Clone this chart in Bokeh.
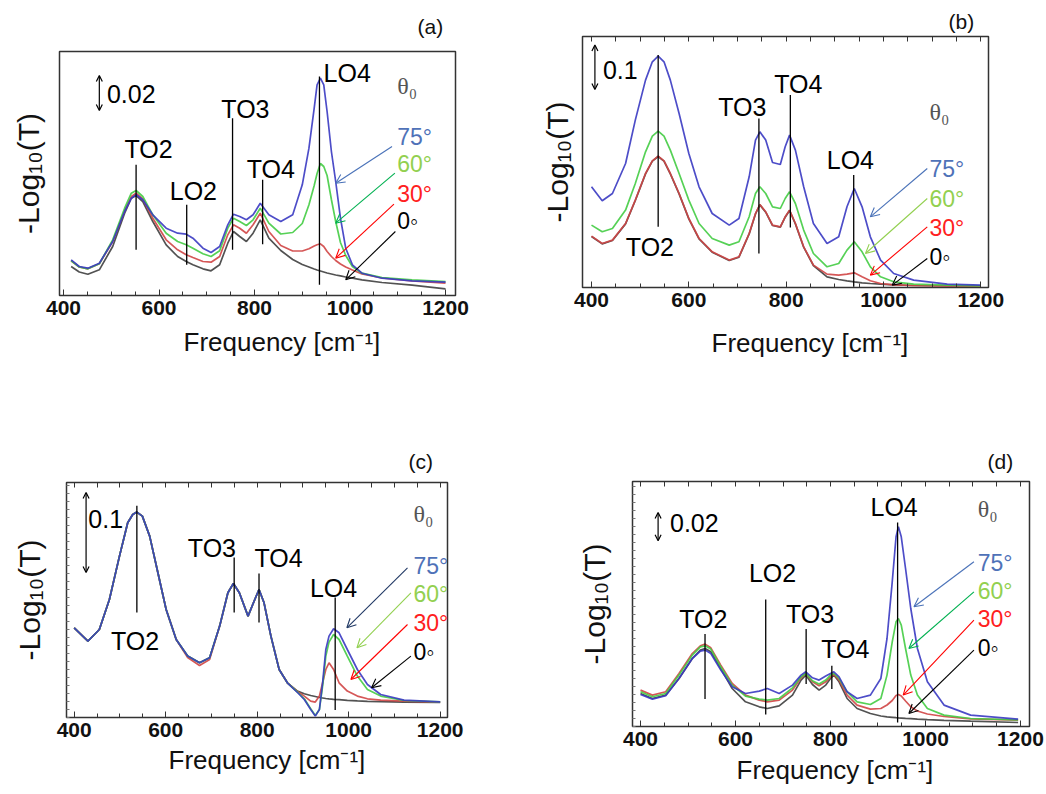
from bokeh.plotting import figure
from bokeh.models import (Label, Arrow, OpenHead, LinearAxis, SingleIntervalTicker, FixedTicker,
                          Range1d, Title)
from bokeh.layouts import column, row
from bokeh.embed import file_html
from bokeh.resources import INLINE

# ---------------- data (absorbance in arbitrary units) ----------------
ANGLES = ["0◦", "30°", "60°", "75°"]

# panel (a)
FREQ_A = [416, 433, 451, 475, 503, 528, 542, 552, 566, 587, 615, 639, 657, 671, 692, 709, 727, 744, 756, 769,
          783, 797, 812, 830, 855, 880, 900, 914, 925, 931, 938, 945, 952, 961, 970, 980, 991, 1005, 1025, 1067,
          1130, 1200]
A_75 = [35.7, 29, 27.3, 32.3, 54, 84, 97.3, 100.7, 95.7, 80.7, 67.3, 62.3, 61.3, 57.3, 47.3, 43, 49, 70.7, 81.3, 79,
        75.7, 80.7, 92.3, 80.7, 74, 80.7, 110.7, 147.3, 187.3, 210.7, 217.3, 210.7, 184, 144, 114, 77.3, 47.3, 30.7,
        22.3, 17.3, 14.7, 13.3]
A_60 = [34.7, 28.5, 26.7, 31.7, 55.7, 87.3, 102.3, 105, 99, 80.7, 62.3, 54, 50.7, 47.3, 41.7, 39, 44.7, 67.3, 77.3, 74,
        70, 75.7, 87.3, 72.3, 61.5, 63, 72, 90.7, 110, 122, 132, 129, 120, 96, 74, 53, 40, 29, 22.3, 18, 15.7, 14]
A_30 = [34.7, 28.5, 26.7, 31.7, 54, 84.7, 99, 102.3, 96.7, 77.3, 55.7, 45.7, 40.7, 38, 34, 33.3, 39, 60.7, 70.7, 67.3,
        62.3, 70.7, 82.3, 64, 50, 44.5, 44.5, 46.7, 49.5, 50.7, 51.7, 49, 44, 39, 35, 31.5, 28.5, 25.5, 21.5, 17.5,
        14.5, 12.3]
A_0 = [29, 23.5, 21.3, 25.7, 49, 82.3, 97.3, 100, 94, 74, 50.7, 39, 34, 30.7, 26.7, 24.7, 30.7, 52.3, 64, 59,
       54, 62.3, 75.7, 57.3, 45, 36, 31, 28.5, 26.5, 25.5, 24.5, 23.5, 22.5, 21.5, 20.5, 19.7, 18.5, 17.3, 15.7, 13,
       10.3, 6.7]

# panel (b)
FREQ_B = [400, 422, 443, 470, 490, 511, 525, 537, 549, 562, 580, 600, 621, 648, 683, 703, 724, 737, 746, 758,
          772, 788, 798, 807, 819, 836, 856, 884, 908, 925, 940, 956, 973, 994, 1021, 1062, 1131, 1200]
B_75 = [100.7, 86.7, 94, 124, 167.4, 207.4, 225.7, 231.4, 225.7, 207.4, 174, 134, 100.7, 74, 62.4, 69, 110.7, 147.4,
        155.7, 147.4, 125, 123, 140.7, 152.4, 137.4, 100.7, 64, 44, 50.7, 80.7, 99, 80.7, 50.7, 27.4, 14, 7.4, 3.4, 2.4]
B_60 = [62.4, 55.7, 59, 77.4, 104, 135.7, 151.4, 156.4, 151.4, 137.4, 114, 87.4, 64, 49, 42.4, 45.7, 70.7, 94, 100.7,
        94, 80.7, 79, 89, 95.7, 84, 57.4, 34, 20.7, 24, 37.4, 45.7, 35.7, 20.7, 10.7, 5.7, 3.4, 2.4, 1.7]
B_30 = [51.4, 44, 47.4, 64, 87.4, 114, 126.7, 131.4, 126.7, 114, 94, 69, 49, 35.7, 27.4, 30.7, 54, 74, 83, 75.7,
        62.4, 60.7, 70.7, 77.4, 64, 40.7, 22.4, 13.4, 12.4, 13.4, 14.7, 10.7, 6.7, 4, 2.7, 2, 1.7, 1.4]
B_0 = [51, 43.6, 47, 63.6, 87, 113.6, 126.3, 131, 126.3, 113.6, 93.6, 68.6, 48.6, 35.3, 27, 30.3, 53.6, 73.6, 82.6,
       75.3, 62, 60.3, 70.3, 77, 63.6, 40.3, 22, 10.7, 8, 6.7, 5.7, 4.7, 4, 3.4, 2.7, 2, 1.7, 1.4]

# panel (c)
FREQ_C = [400, 430, 455, 477, 499, 517, 528, 537, 549, 565, 583, 601, 623, 648, 674, 696, 718, 736, 748, 761,
          780, 793, 804, 815, 830, 848, 866, 888, 903, 917, 927, 936, 943, 950, 957, 967, 979, 997, 1019, 1041,
          1070, 1121, 1200]
C_75 = [89.7, 76.4, 88, 118, 161.4, 194.7, 203, 205.4, 201.4, 181.4, 144.7, 108, 78, 61.4, 54.7, 59.7, 91.4, 124.7,
        134, 124.7, 101.4, 116, 128, 114.7, 81.4, 48, 34.7, 25, 18, 8, 1.4, 8, 34.7, 68, 81.4, 88.7, 84.7, 68, 48, 33,
        23, 17.4, 15.7]
C_60 = [89.7, 76.4, 88, 118, 161.4, 194.7, 203, 205.4, 201.4, 181.4, 144.7, 108, 78, 61.4, 54.7, 59.7, 91.4, 124.7,
        134, 124.7, 101.4, 116, 128, 114.7, 81.4, 48, 34.7, 25.5, 18.7, 8.7, 2, 8, 31.4, 61.4, 75.4, 83, 78, 61.4,
        41.4, 28, 21.4, 17, 15.7]
C_30 = [89.7, 76.4, 88, 118, 161.4, 194.7, 203, 205.4, 201.4, 181.4, 144.7, 108, 78, 60, 52, 58, 91.4, 124.7,
        134, 124.7, 101.4, 116, 128, 114.7, 81.4, 48, 34.7, 26, 21.4, 16.4, 15.4, 21.4, 34.7, 48, 54.7, 48, 34.7,
        26.4, 21.4, 18.7, 17.4, 16.4, 15.4]
C_0 = [89.7, 76.4, 88, 118, 161.4, 194.7, 203, 205.4, 201.4, 181.4, 144.7, 108, 78, 61.4, 54.7, 59.7, 91.4, 124.7,
       134, 124.7, 101.4, 116, 128, 114.7, 81.4, 48, 34.7, 26.4, 23.8, 22, 21, 20, 19.5, 19, 18.6, 18.2, 17.9, 17.2,
       16.6, 16.2, 15.8, 15.4, 15.2]

# panel (d)
FREQ_D = [400, 425, 453, 481, 509, 526, 536, 548, 569, 593, 621, 650, 667, 692, 720, 738, 748, 762, 776, 790,
          800, 807, 818, 835, 856, 884, 906, 919, 930, 938, 943, 949, 958, 969, 983, 1004, 1039, 1095, 1195]
D_75 = [32, 27.4, 30.7, 48, 68, 75.4, 76.4, 73, 56.4, 39.7, 33, 35.4, 38, 33, 41.4, 51.4, 54.7, 48.7, 46.4, 50.4,
        53, 54.7, 49.7, 34.7, 28, 31.4, 48, 88, 144.7, 189.7, 199.7, 189.7, 158, 118, 78, 44.7, 21.4, 11.4, 7.4]
D_60 = [34.7, 29.7, 33, 51.4, 71.4, 79.7, 80.7, 77.4, 59.7, 41.4, 30.4, 27.4, 26.4, 28, 38.7, 49.7, 53, 45.7, 42.4,
        46.4, 51.4, 53, 48, 34.7, 24.7, 22, 28, 51.4, 84.7, 104.7, 108, 101.4, 78, 51.4, 31.4, 18, 11.4, 8, 6.7]
D_30 = [36.4, 31.4, 34.7, 53, 73, 80.7, 82.4, 78.7, 61.4, 43, 31.4, 26.4, 24.7, 26.4, 36.4, 48.7, 53, 44.7, 40.7,
        44.7, 49.7, 52, 46.4, 31.4, 21.4, 17.4, 18, 21.5, 26, 31, 32, 30.5, 25.5, 19.7, 15.5, 12.5, 10, 7.7, 6.4]
D_0 = [33, 28, 31.4, 48, 68, 76.4, 78, 74.7, 58, 38, 24.7, 19.7, 18, 20.7, 31.4, 46.4, 51.4, 42, 36.4, 41.4,
       48, 51.4, 44.7, 28, 18, 13, 10.5, 9.7, 9.2, 8.8, 8.6, 8.4, 8.1, 7.8, 7.4, 6.9, 6.2, 5.3, 4]

# ---------------- styling ----------------
FONT = "Liberation Sans"
CURVE_COLORS = ["#3f3f3f", "#d04545", "#44cc44", "#3a3ac2"]
TEXT_COLORS = ["#000000", "#ff2020", "#92d050", "#4f72b8"]
X_MINOR = list(range(400, 1201, 50))


def txt(p, x, y, s, size="25px", color="black", align="center", font=FONT):
    p.add_layout(Label(x=x, y=y, text=s, text_font=font, text_font_size=size, text_color=color,
                       text_align=align, text_baseline="middle"))


def arrow(p, x0, y0, x1, y1, color, size=9):
    p.add_layout(Arrow(end=OpenHead(size=size, line_color=color, line_width=1.1),
                       x_start=x0, y_start=y0, x_end=x1, y_end=y1,
                       line_color=color, line_width=1.1))


def build(freq, series, xr, ymax, w, h, bl, br, bt, bb, ylab_standoff, top_axis, left_ticks,
          tag, tag_offset, tag_standoff, xlab_offset, xlab_standoff):
    p = figure(width=w, height=h, x_range=Range1d(*xr), y_range=Range1d(0, ymax),
               min_border_left=bl, min_border_right=br, min_border_top=bt, min_border_bottom=bb,
               output_backend="svg", toolbar_location=None, tools="")
    p.grid.visible = False
    p.outline_line_color = "#333333"
    p.outline_line_width = 1.5
    p.background_fill_color = "white"
    p.border_fill_color = "white"

    # panel tag "(a)" etc.
    p.title.text = tag
    p.title.align = "left"
    p.title.vertical_align = "top"
    p.title.offset = tag_offset
    p.title.standoff = tag_standoff
    p.title.text_font = FONT
    p.title.text_font_size = "21px"
    p.title.text_font_style = "normal"
    p.title.text_color = "#111111"

    xa = p.xaxis[0]
    xa.ticker = SingleIntervalTicker(interval=200, num_minor_ticks=4)
    xa.axis_line_color = None
    xa.major_tick_in = 6
    xa.major_tick_out = 0
    xa.minor_tick_in = 4
    xa.minor_tick_out = 0
    xa.major_tick_line_color = "#333333"
    xa.minor_tick_line_color = "#333333"
    xa.major_label_text_font = FONT
    xa.major_label_text_font_size = "21px"
    xa.major_label_text_font_style = "bold"
    xa.major_label_text_color = "#111111"
    xa.major_label_standoff = 5

    p.add_layout(Title(text="Frequency [cm⁻¹]", align="left", offset=xlab_offset, standoff=xlab_standoff,
                       text_font=FONT, text_font_size="26px", text_font_style="normal",
                       text_color="#111111"), "below")

    ya = p.yaxis[0]
    ya.axis_line_color = None
    if left_ticks:
        ya.ticker = FixedTicker(ticks=[], minor_ticks=list(range(0, int(ymax), 8)))
        ya.minor_tick_in = 3
        ya.minor_tick_out = 0
        ya.minor_tick_line_color = "#777777"
    else:
        ya.ticker = FixedTicker(ticks=[])
        ya.minor_tick_line_color = None
    ya.major_tick_line_color = None
    ya.major_tick_out = 0
    ya.major_label_standoff = 0
    ya.axis_label = "-Log₁₀(T)"
    ya.axis_label_text_font = FONT
    ya.axis_label_text_font_size = "30px"
    ya.axis_label_text_font_style = "normal"
    ya.axis_label_text_color = "#111111"
    ya.axis_label_standoff = ylab_standoff

    if top_axis:
        ta = LinearAxis(ticker=FixedTicker(ticks=[], minor_ticks=X_MINOR),
                        axis_line_color=None, major_tick_line_color=None,
                        major_tick_out=0, major_label_standoff=0,
                        minor_tick_in=5, minor_tick_out=0, minor_tick_line_color="#333333")
        p.add_layout(ta, "above")

    for s, c in zip(series, CURVE_COLORS):
        p.line(freq, s, line_color=c, line_width=1.7, line_alpha=0.9)
    return p


def markers(p, items):
    # items: (x, y_bottom, y_top)
    for x, y0, y1 in items:
        p.segment(x0=[x], y0=[y0], x1=[x], y1=[y1], line_color="black", line_width=1.3)


def scale_bar(p, x, y0, y1, tx, ty, s):
    p.add_layout(Arrow(start=OpenHead(size=6, line_width=1.2), end=OpenHead(size=6, line_width=1.2),
                       x_start=x, y_start=y0, x_end=x, y_end=y1, line_width=1.2, line_color="black"))
    txt(p, tx, ty, s, size="25px", align="left")


def angle_labels(p, x, ys, theta_y, arrows, arrow_colors):
    txt(p, x, theta_y, "θ₀", size="24px", color="#555555", align="left", font="Liberation Serif")
    for lab, y, c in zip(ANGLES[::-1], ys, TEXT_COLORS[::-1]):
        txt(p, x, y, lab, size="23px", color=c, align="left")
    for (x0, y0, x1, y1), c in zip(arrows, arrow_colors):
        arrow(p, x0, y0, x1, y1, c)


# ---------------- panel (a) ----------------
pa = build(FREQ_A, [A_0, A_30, A_60, A_75], (391.6, 1220.9), 244, 523, 398, 59, 68, 51, 103, 15, False, False,
           "(a)", 358, 24, 124, 14)
markers(pa, [(552, 45.7, 130.7), (658, 30.7, 90.7), (754, 45.7, 177.3), (817, 51.3, 115.7), (936, 10.7, 219)])
txt(pa, 578, 147, "TO2")
txt(pa, 672, 105, "LO2")
txt(pa, 781, 187, "TO3")
txt(pa, 834, 127, "TO4")
txt(pa, 994, 223, "LO4")
scale_bar(pa, 475, 185, 220, 491, 202, "0.02")
angle_labels(pa, 1099, [159, 131.7, 101.7, 74.3], 210,
             [(1088, 149, 970, 112.3), (1094, 122.3, 970, 72.3), (1092, 91.3, 970, 37.3), (1095, 64, 991, 15.7)],
             ["#4a72b8", "#00b050", "#ff0000", "#000000"])

# ---------------- panel (b) ----------------
pb = build(FREQ_B, [B_0, B_30, B_60, B_75], (381.5, 1215.8), 251, 522, 398, 59, 57, 36, 111, 9, True, False,
           "(b)", 366, 4, 129, 32)
markers(pb, [(537, 60.7, 232.4), (744, 34, 169), (808.6, 60, 192.4), (938.8, 0.7, 112.4)])
txt(pb, 520, 40.7, "TO2")
txt(pb, 710, 180.7, "TO3")
txt(pb, 825, 203.4, "TO4")
txt(pb, 932, 127.4, "LO4")
scale_bar(pb, 407, 198, 242.4, 423.4, 217.4, "0.1")
angle_labels(pb, 1094.5, [119, 89, 60, 30.7], 175.7,
             [(1090, 119, 973, 70.7), (1090, 89, 963, 34), (1090, 60.7, 973, 12.4), (1090, 29, 1018, 2.4)],
             ["#4a72b8", "#92d050", "#ff0000", "#000000"])

# ---------------- panel (c) ----------------
pc = build(FREQ_C, [C_0, C_30, C_60, C_75], (383.2, 1216), 235, 523, 395, 66, 76, 84, 76, 21, True, True,
           "(c)", 342, 16, 102, 6)
markers(pc, [(537, 105, 211.7), (749.7, 105, 160), (804, 95, 144), (970.5, 7.4, 120)])
txt(pc, 533, 76.7, "TO2")
txt(pc, 701, 170, "TO3")
txt(pc, 846.6, 159.4, "TO4")
txt(pc, 967, 129.4, "LO4")
scale_bar(pc, 426, 145, 225, 431, 198.4, "0.1")
angle_labels(pc, 1141.6, [151.7, 123.4, 95, 66], 203.4,
             [(1128.6, 149.7, 996, 89.7), (1136, 124.7, 1018, 69.7), (1128.6, 93, 1004.8, 38), (1136, 61.4, 1050, 29.7)],
             ["#203864", "#92d050", "#ff0000", "#000000"])

# ---------------- panel (d) ----------------
pd_ = build(FREQ_D, [D_0, D_30, D_60, D_75], (383.1, 1219), 245, 522, 395, 109, 16, 83, 67, 22, True, True,
            "(d)", 355, 14, 104, 8)
markers(pd_, [(535.8, 27.4, 92.4), (663.6, 12, 127), (748.7, 42.4, 97.4), (802.8, 37.4, 60.7), (941.3, 4, 204)])
txt(pd_, 532, 107.4, "TO2")
txt(pd_, 678, 154, "LO2")
txt(pd_, 757, 112.4, "TO3")
txt(pd_, 831, 77.4, "TO4")
txt(pd_, 934, 219.7, "LO4")
scale_bar(pd_, 437, 185.7, 214, 462, 204, "0.02")
angle_labels(pd_, 1110, [164, 135.7, 107.4, 79], 217.4,
             [(1102, 164.7, 975.7, 119.7), (1102, 134.7, 965, 78), (1102, 106.4, 953, 31.4), (1102, 76.4, 965, 13)],
             ["#4a72b8", "#00b050", "#ff0000", "#000000"])

# each panel sits in its own container so that the row does not align the plot frames
layout = column(row(column(pa), column(pb)), row(column(pc), column(pd_)))
open("out.html", "w").write(file_html(layout, INLINE))
